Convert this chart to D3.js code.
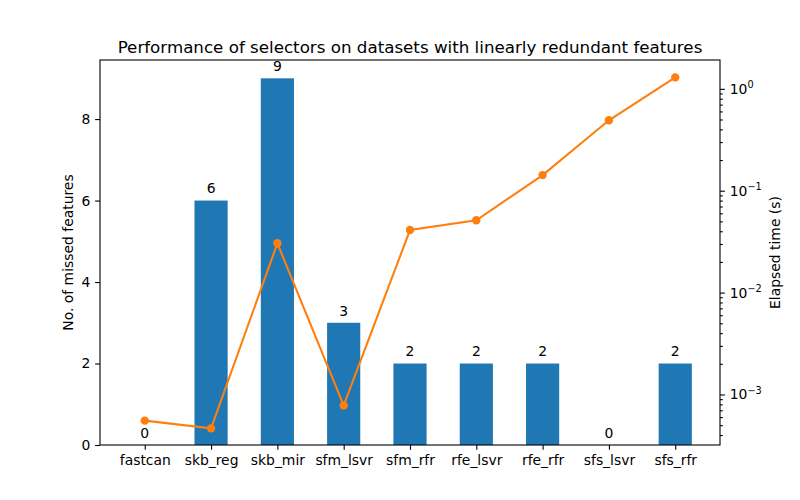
<!DOCTYPE html>
<html>
<head>
<meta charset="utf-8">
<script src="https://cdn.jsdelivr.net/npm/d3@7"></script>
<style>
  body { margin: 0; background: #fff; }
  svg { font-family: "DejaVu Sans", sans-serif; }
  .axis text { font-size: 13.9px; fill: #000; font-family: "DejaVu Sans", sans-serif; }
  .axis path, .axis line { stroke: #000; stroke-width: 1.1; }
</style>
</head>
<body>
<div id="chart"></div>
<script>
'use strict'

// Selector names along the x axis.
const selectors = ['fastcan', 'skb_reg', 'skb_mir', 'sfm_lsvr', 'sfm_rfr', 'rfe_lsvr', 'rfe_rfr', 'sfs_lsvr', 'sfs_rfr'];
// Missed features (bars, left axis).
const missed = [0, 6, 9, 3, 2, 2, 2, 0, 2];
// Elapsed time in seconds (line, right log axis).
const elapsed = [0.00056, 0.00047, 0.0308, 0.00079, 0.0416, 0.0518, 0.144, 0.497, 1.31];
const leftTicks = [0, 2, 4, 6, 8];
const rightTicks = [1e-3, 1e-2, 1e-1, 1];

const width = 800, height = 500;
const margin = {top: 60, right: 80, bottom: 55, left: 100};
const innerW = width - margin.left - margin.right,
    innerH = height - margin.top - margin.bottom;
const majorTick = 4.86, minorTick = 2.78;

const svg = d3.select('#chart')
    .append('svg')
    .attr('width', width)
    .attr('height', height);

const g = svg.append('g')
    .attr('transform', `translate(${margin.left},${margin.top})`);

// Scales (matplotlib-like 5% margins).
const n = selectors.length;
const x = d3.scaleLinear()
    .domain([-0.675, n - 1 + 0.675])
    .range([0, innerW]);

const yMax = d3.max(missed) * 1.05;
const y = d3.scaleLinear()
    .domain([0, yMax])
    .range([innerH, 0]);

const yLog = d3.scaleLog()
    .domain([3.23e-4, 1.94])
    .range([innerH, 0]);

const barW = x(0.5) - x(0);

// Bars.
g.selectAll('rect.bar')
    .data(missed)
    .join('rect')
    .attr('class', 'bar')
    .attr('x', (d, i) => x(i) - barW / 2)
    .attr('width', barW)
    .attr('y', d => y(d))
    .attr('height', d => y(0) - y(d))
    .attr('fill', '#1f77b4');

// Bar labels.
g.selectAll('text.barLabel')
    .data(missed)
    .join('text')
    .attr('class', 'barLabel')
    .attr('x', (d, i) => x(i))
    .attr('y', d => y(d) - 7.2)
    .attr('text-anchor', 'middle')
    .style('font-size', '13.9px')
    .text(d => d);

// Elapsed time line.
const line = d3.line()
    .x((d, i) => x(i))
    .y(d => yLog(d));

g.append('path')
    .datum(elapsed)
    .attr('d', line)
    .attr('fill', 'none')
    .attr('stroke', '#ff7f0e')
    .attr('stroke-width', 2.08);

g.selectAll('circle.dot')
    .data(elapsed)
    .join('circle')
    .attr('class', 'dot')
    .attr('cx', (d, i) => x(i))
    .attr('cy', d => yLog(d))
    .attr('r', 4.2)
    .attr('fill', '#ff7f0e');

// Axes.
const xAxis = d3.axisBottom(x)
    .tickValues(d3.range(n))
    .tickFormat(i => selectors[i])
    .tickSize(majorTick)
    .tickPadding(4.86)
    .tickSizeOuter(0);

g.append('g')
    .attr('class', 'axis xAxis')
    .attr('transform', `translate(0,${innerH})`)
    .call(xAxis)
    .select('.domain').remove();

const yAxis = d3.axisLeft(y)
    .tickValues(leftTicks)
    .tickSize(majorTick)
    .tickPadding(4.86)
    .tickSizeOuter(0);

g.append('g')
    .attr('class', 'axis yAxis')
    .call(yAxis)
    .select('.domain').remove();

// Right log axis with minor ticks.
const minor = [];
for (let e = -4; e <= 0; e++) {
    for (let m = 2; m <= 9; m++) {
        const v = m * Math.pow(10, e);
        if (v >= yLog.domain()[0] && v <= yLog.domain()[1]) minor.push(v);
    }
}

const right = g.append('g')
    .attr('class', 'axis yRight')
    .attr('transform', `translate(${innerW},0)`);

right.selectAll('line.minor')
    .data(minor)
    .join('line')
    .attr('class', 'minor')
    .attr('x1', 0).attr('x2', minorTick)
    .attr('y1', d => yLog(d)).attr('y2', d => yLog(d));

const rt = right.selectAll('g.tick')
    .data(rightTicks)
    .join('g')
    .attr('class', 'tick')
    .attr('transform', d => `translate(0,${yLog(d)})`);

rt.append('line').attr('x2', majorTick);

const rtText = rt.append('text')
    .attr('x', majorTick + 4.86)
    .attr('dy', '0.32em');
rtText.append('tspan').text('10');
rtText.append('tspan')
    .attr('dy', '-0.6em')
    .style('font-size', '9.7px')
    .text(d => { const e = Math.round(Math.log10(d)); return e < 0 ? '\u2212' + (-e) : e; });

// Frame.
g.append('rect')
    .attr('width', innerW)
    .attr('height', innerH)
    .attr('fill', 'none')
    .attr('stroke', '#000')
    .attr('stroke-width', 1.1);

// Title and axis labels.
svg.append('text')
    .attr('x', margin.left + innerW / 2)
    .attr('y', margin.top - 7.5)
    .attr('text-anchor', 'middle')
    .style('font-size', '16.7px')
    .text('Performance of selectors on datasets with linearly redundant features');

svg.append('text')
    .attr('transform', `translate(73,${margin.top + innerH / 2}) rotate(-90)`)
    .attr('text-anchor', 'middle')
    .style('font-size', '13.9px')
    .text('No. of missed features');

svg.append('text')
    .attr('transform', `translate(770,${margin.top + innerH / 2}) rotate(-90)`)
    .attr('text-anchor', 'middle')
    .attr('dy', '0.71em')
    .style('font-size', '13.9px')
    .text('Elapsed time (s)');
</script>
</body>
</html>
